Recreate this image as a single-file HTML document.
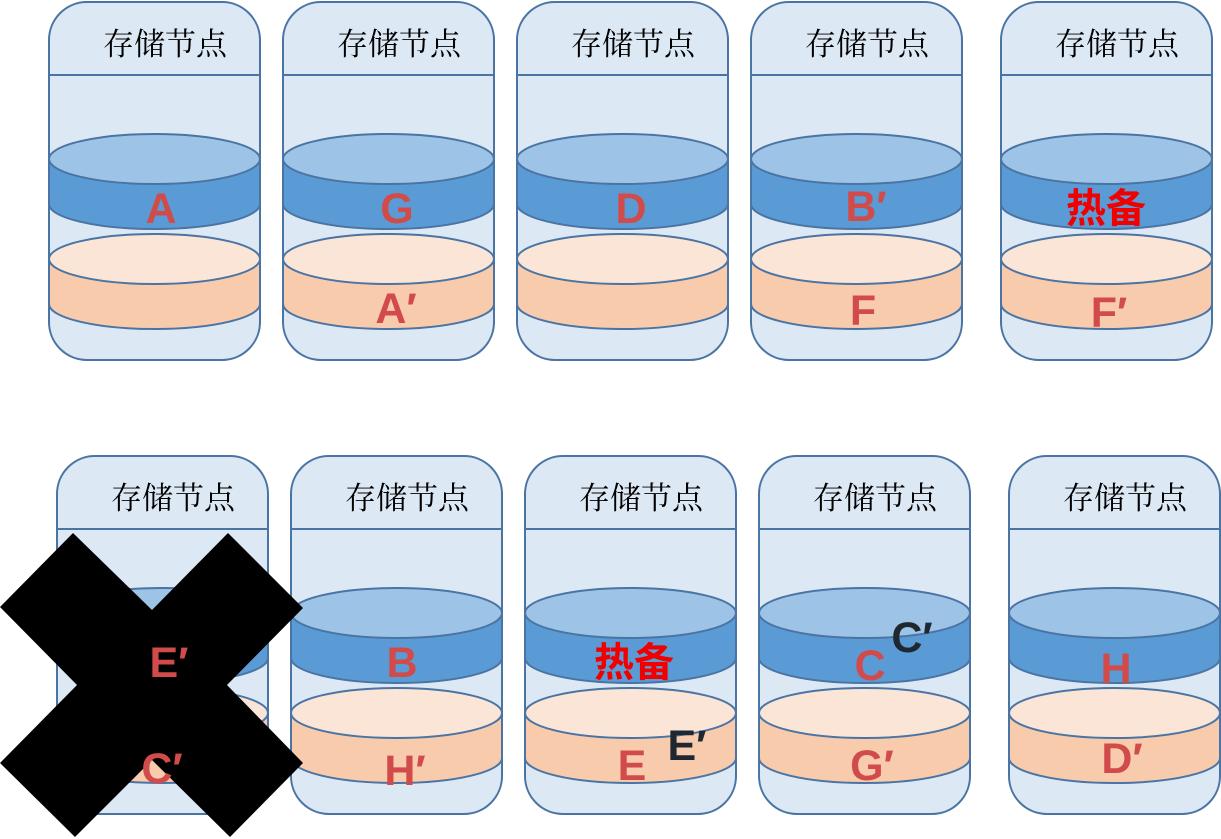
<!DOCTYPE html>
<html><head><meta charset="utf-8"><style>
html,body{margin:0;padding:0;background:#fff;}
svg{display:block;}
.h{font-family:"Liberation Serif","Noto Serif CJK SC",serif;font-size:31px;fill:#000;}
.l{font-family:"Liberation Sans","DejaVu Sans",sans-serif;font-weight:bold;font-size:43px;fill:#d24b4b;text-anchor:middle;}
.k{font-family:"Liberation Sans","DejaVu Sans",sans-serif;font-weight:bold;font-size:43px;fill:#1f2730;text-anchor:middle;}
.r{font-family:"Liberation Sans","Noto Sans CJK SC",sans-serif;font-weight:bold;font-size:40px;fill:#f00000;text-anchor:middle;}
</style></head><body>
<svg width="1221" height="839" viewBox="0 0 1221 839" xmlns="http://www.w3.org/2000/svg">
<defs>
<g id="node">
  <rect x="0" y="0" width="211" height="358" rx="38" ry="38" fill="#dde8f5" stroke="#4a74a3" stroke-width="2"/>
  <line x1="0" y1="73" x2="211" y2="73" stroke="#4a74a3" stroke-width="2"/>
  <path d="M0,157 L0,202 A105.5,25 0 0 0 211,202 L211,157 Z" fill="#5b9bd5" stroke="#4a74a3" stroke-width="2"/>
  <ellipse cx="105.5" cy="157" rx="105.5" ry="25" fill="#9dc3e6" stroke="#4a74a3" stroke-width="2"/>
  <path d="M0,257 L0,302 A105.5,25 0 0 0 211,302 L211,257 Z" fill="#f8cbad" stroke="#4a74a3" stroke-width="2"/>
  <ellipse cx="105.5" cy="257" rx="105.5" ry="25" fill="#fbe5d6" stroke="#4a74a3" stroke-width="2"/>
  <text x="54" y="53" class="h">存储节点</text>
</g>
</defs>
<use href="#node" x="49" y="2"/>
<use href="#node" x="283" y="2"/>
<use href="#node" x="517" y="2"/>
<use href="#node" x="751" y="2"/>
<use href="#node" x="1001" y="2"/>
<use href="#node" x="57" y="456"/>
<use href="#node" x="291" y="456"/>
<use href="#node" x="525" y="456"/>
<use href="#node" x="759" y="456"/>
<use href="#node" x="1009" y="456"/>

<text x="161" y="223" class="l">A</text>
<text x="397" y="223" class="l">G</text>
<text x="631" y="223" class="l">D</text>
<text x="866" y="221" class="l">B′</text>
<text x="1106" y="222" class="r">热备</text>
<text x="396" y="323" class="l">A′</text>
<text x="863" y="325" class="l">F</text>
<text x="1109" y="327" class="l">F′</text>

<polygon points="0,607 73,533 152,610 228,533 303,608 227,685 303,763 230,837 152,760 75,837 0,763 77,685" fill="#000"/>
<text x="169" y="677" class="l">E′</text>
<text x="162" y="783" class="l">C′</text>
<text x="402" y="677" class="l">B</text>
<text x="634" y="676" class="r">热备</text>
<text x="632" y="780" class="l">E</text>
<text x="687" y="760" class="k">E′</text>
<text x="870" y="680" class="l">C</text>
<text x="912" y="652" class="k">C′</text>
<text x="1116" y="683" class="l">H</text>
<text x="405" y="785" class="l">H′</text>
<text x="872" y="780" class="l">G′</text>
<text x="1122" y="773" class="l">D′</text>
</svg>
</body></html>
